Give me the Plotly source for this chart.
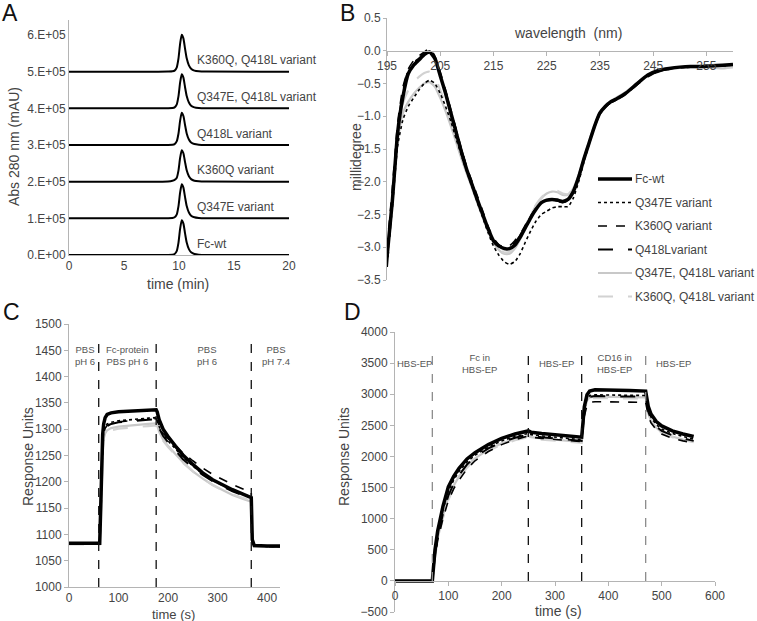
import plotly.graph_objects as go

# ---------------- Panel A: size-exclusion chromatograms (stacked) ----------------
a_time = [0, 8, 9, 9.4, 9.6, 9.8, 9.95, 10.1, 10.25, 10.4, 10.55, 10.7, 10.9, 11.1, 11.4, 11.8, 12.5, 20]
a_fc_wt = [0, 0, 300, 1000, 2900, 11400, 33000, 71000, 95000, 85500, 59000, 34000, 16000, 7600, 2900, 1000, 200, 0]
a_q347e = [100000, 100000, 100300, 100900, 102800, 111000, 132500, 170000, 193000, 183700, 157700, 133500, 115800, 107400, 102800, 100900, 100200, 100000]
a_k360q = [200000, 200000, 200500, 202500, 205000, 211000, 230000, 264500, 286000, 277400, 253300, 231000, 214600, 206900, 202600, 200900, 200200, 200000]
a_q418l = [300000, 300000, 300300, 300900, 302600, 310600, 330800, 366000, 388000, 379200, 354600, 331700, 315000, 307000, 302600, 300900, 300200, 300000]
a_q347e_q418l = [400000, 400000, 400300, 400900, 402800, 411000, 432500, 470000, 493000, 483700, 457700, 433500, 415800, 407400, 402800, 400900, 400200, 400000]
a_k360q_q418l = [500000, 500000, 500300, 501000, 503000, 512100, 535400, 575800, 601000, 590900, 562600, 536400, 517200, 508100, 503000, 501000, 500200, 500000]
a_labels = ["Fc-wt", "Q347E variant", "K360Q variant", "Q418L variant",
            "Q347E, Q418L variant", "K360Q, Q418L variant"]
a_label_y = [31000, 131000, 231000, 331000, 431000, 531000]
a_tickvals = [0, 100000, 200000, 300000, 400000, 500000, 600000]
a_ticktext = ["0.E+00", "1.E+05", "2.E+05", "3.E+05", "4.E+05", "5.E+05", "6.E+05"]

# ---------------- Panel B: CD spectra ----------------
b_wl = [195, 196, 197, 198, 199, 200, 201, 202, 203, 204, 205, 206, 207, 208, 209, 210,
        211, 212, 213, 214, 215, 216, 217, 218, 219, 220, 221, 222, 223, 224, 225, 226,
        227, 228, 229, 230, 231, 232, 233, 234, 235, 236, 237, 238, 240, 242, 244, 246,
        248, 250, 252, 254, 256, 258, 260]
b_fc_wt = [-3.15, -2.3, -1.25, -0.7, -0.35, -0.22, -0.14, -0.06, -0.02, -0.12, -0.38, -0.65, -0.95, -1.25, -1.55, -1.82,
           -2.05, -2.28, -2.5, -2.72, -2.9, -2.98, -3.02, -3.02, -2.97, -2.85, -2.7, -2.55, -2.42, -2.32, -2.28, -2.27,
           -2.28, -2.3, -2.27, -2.15, -1.93, -1.65, -1.4, -1.15, -0.95, -0.85, -0.78, -0.74, -0.64, -0.5, -0.37, -0.3,
           -0.27, -0.25, -0.24, -0.24, -0.23, -0.22, -0.21]
b_q347e = [-3.2, -2.4, -1.45, -1.05, -0.85, -0.72, -0.6, -0.5, -0.45, -0.5, -0.65, -0.85, -1.08, -1.35, -1.6, -1.85,
           -2.08, -2.32, -2.55, -2.78, -2.98, -3.12, -3.22, -3.26, -3.22, -3.1, -2.92, -2.75, -2.6, -2.5, -2.45, -2.4,
           -2.38, -2.38, -2.38, -2.25, -2.0, -1.7, -1.42, -1.17, -0.97, -0.86, -0.79, -0.74, -0.64, -0.5, -0.38, -0.31,
           -0.27, -0.26, -0.25, -0.24, -0.24, -0.23, -0.22]
b_k360q = [-3.0, -2.1, -1.1, -0.55, -0.28, -0.15, -0.08, -0.02, 0.04, -0.08, -0.32, -0.6, -0.9, -1.2, -1.5, -1.78,
           -2.0, -2.22, -2.45, -2.68, -2.86, -2.96, -3.0, -2.98, -2.9, -2.8, -2.66, -2.52, -2.4, -2.32, -2.29, -2.28,
           -2.3, -2.32, -2.28, -2.15, -1.92, -1.64, -1.38, -1.14, -0.95, -0.86, -0.8, -0.76, -0.66, -0.52, -0.4, -0.31,
           -0.28, -0.25, -0.24, -0.24, -0.23, -0.23, -0.22]
b_q418l = [-3.3, -2.3, -1.2, -0.62, -0.3, -0.18, -0.12, -0.05, -0.02, -0.12, -0.36, -0.63, -0.93, -1.22, -1.52, -1.8,
           -2.04, -2.27, -2.5, -2.72, -2.9, -2.99, -3.02, -3.0, -2.93, -2.82, -2.68, -2.53, -2.41, -2.32, -2.28, -2.27,
           -2.29, -2.31, -2.27, -2.14, -1.92, -1.65, -1.4, -1.15, -0.96, -0.86, -0.79, -0.75, -0.65, -0.51, -0.38, -0.32,
           -0.27, -0.26, -0.24, -0.23, -0.23, -0.22, -0.22]
b_q347e_q418l = [-3.15, -2.35, -1.4, -0.95, -0.78, -0.66, -0.57, -0.5, -0.48, -0.55, -0.72, -0.92, -1.15, -1.4, -1.65, -1.88,
                 -2.1, -2.33, -2.55, -2.76, -2.93, -3.04, -3.1, -3.1, -3.02, -2.88, -2.7, -2.52, -2.36, -2.25, -2.18, -2.15,
                 -2.16, -2.2, -2.2, -2.1, -1.9, -1.63, -1.37, -1.13, -0.94, -0.84, -0.77, -0.72, -0.62, -0.49, -0.37, -0.31,
                 -0.28, -0.26, -0.25, -0.25, -0.26, -0.27, -0.25]
b_k360q_q418l = [-3.1, -2.25, -1.3, -0.8, -0.6, -0.48, -0.4, -0.34, -0.32, -0.4, -0.6, -0.82, -1.07, -1.33, -1.6, -1.84,
                 -2.07, -2.3, -2.52, -2.74, -2.92, -3.03, -3.08, -3.07, -2.99, -2.86, -2.68, -2.5, -2.35, -2.24, -2.17, -2.13,
                 -2.14, -2.18, -2.19, -2.09, -1.9, -1.63, -1.37, -1.13, -0.94, -0.84, -0.77, -0.73, -0.63, -0.5, -0.37, -0.31,
                 -0.28, -0.26, -0.25, -0.25, -0.25, -0.26, -0.25]
b_names = ["Fc-wt", "Q347E variant", "K360Q variant", "Q418Lvariant",
           "Q347E, Q418L variant", "K360Q, Q418L variant"]

# ---------------- Panel C: SPR, FcRn ----------------
c_time = [0, 62, 64, 66, 68, 70, 73, 77, 85, 100, 120, 140, 160, 176, 178, 182, 190, 200, 215, 230,
          250, 270, 290, 310, 330, 350, 368, 370, 374, 400, 430]
c_fc_wt = [1083, 1083, 1150, 1240, 1290, 1310, 1322, 1328, 1331, 1333, 1334, 1335, 1336, 1337, 1333, 1318, 1300, 1286, 1268, 1251,
           1233, 1217, 1204, 1194, 1185, 1177, 1170, 1090, 1079, 1078, 1078]
c_q347e = [1082, 1082, 1140, 1225, 1275, 1295, 1305, 1310, 1313, 1316, 1318, 1320, 1321, 1322, 1318, 1305, 1290, 1278, 1262, 1247,
           1230, 1215, 1203, 1193, 1185, 1177, 1171, 1088, 1078, 1077, 1077]
c_k360q = [1082, 1082, 1140, 1225, 1272, 1292, 1302, 1307, 1311, 1314, 1316, 1318, 1319, 1320, 1316, 1305, 1292, 1282, 1268, 1255,
           1240, 1226, 1214, 1204, 1195, 1187, 1180, 1090, 1079, 1078, 1078]
c_q418l = [1082, 1082, 1138, 1222, 1270, 1290, 1300, 1306, 1310, 1313, 1315, 1317, 1318, 1319, 1315, 1302, 1287, 1275, 1258, 1243,
           1227, 1213, 1201, 1191, 1182, 1175, 1168, 1088, 1078, 1077, 1077]
c_q347e_q418l = [1082, 1082, 1130, 1210, 1260, 1282, 1292, 1298, 1302, 1305, 1307, 1309, 1310, 1311, 1307, 1295, 1280, 1268, 1252, 1237,
                 1220, 1206, 1194, 1184, 1175, 1168, 1162, 1085, 1077, 1076, 1076]
c_k360q_q418l = [1081, 1081, 1128, 1205, 1255, 1278, 1288, 1294, 1298, 1301, 1303, 1305, 1306, 1307, 1303, 1292, 1278, 1266, 1250, 1236,
                 1220, 1206, 1194, 1184, 1176, 1169, 1164, 1085, 1077, 1076, 1076]
c_events = [60, 176, 368]
c_phase_x = [32, 118, 278, 418]
c_phase_text = ["PBS<br>pH 6", "Fc-protein<br>PBS pH 6", "PBS<br>pH 6", "PBS<br>pH 7.4"]

# ---------------- Panel D: SPR, CD16 ----------------
d_time = [0, 70, 72, 75, 80, 90, 100, 110, 120, 135, 150, 175, 200, 225, 250, 255, 275, 300, 325, 350,
          352, 355, 360, 365, 375, 400, 440, 470, 472, 475, 480, 490, 500, 520, 540, 560]
d_fc_wt = [0, 0, 200, 500, 800, 1200, 1510, 1680, 1810, 1960, 2060, 2190, 2290, 2360, 2410, 2390, 2370, 2350, 2330, 2310,
           2500, 2800, 2990, 3050, 3070, 3070, 3060, 3050, 2950, 2800, 2680, 2560, 2490, 2410, 2360, 2320]
d_q347e = [0, 0, 180, 460, 760, 1150, 1440, 1620, 1760, 1910, 2020, 2150, 2250, 2320, 2370, 2350, 2330, 2310, 2290, 2270,
           2450, 2750, 2930, 2980, 2990, 2990, 2985, 2980, 2880, 2740, 2630, 2510, 2440, 2370, 2320, 2280]
d_k360q = [0, 0, 150, 380, 650, 1000, 1290, 1480, 1620, 1800, 1930, 2080, 2190, 2270, 2330, 2310, 2290, 2270, 2250, 2240,
           2400, 2650, 2820, 2870, 2880, 2880, 2875, 2870, 2780, 2650, 2540, 2430, 2360, 2290, 2250, 2220]
d_q418l = [0, 0, 160, 420, 700, 1080, 1370, 1560, 1700, 1870, 1990, 2130, 2230, 2300, 2350, 2330, 2310, 2290, 2270, 2250,
           2430, 2720, 2900, 2960, 2970, 2970, 2965, 2960, 2860, 2720, 2600, 2480, 2410, 2340, 2290, 2250]
d_q347e_q418l = [0, 0, 150, 400, 680, 1050, 1340, 1530, 1680, 1850, 1970, 2110, 2210, 2280, 2330, 2310, 2290, 2270, 2250, 2230,
                 2420, 2720, 2900, 2950, 2960, 2960, 2955, 2950, 2850, 2700, 2580, 2460, 2390, 2320, 2270, 2240]
d_k360q_q418l = [0, 0, 140, 380, 650, 1010, 1300, 1500, 1650, 1820, 1950, 2090, 2190, 2260, 2310, 2290, 2270, 2250, 2230, 2220,
                 2400, 2700, 2880, 2930, 2940, 2940, 2935, 2930, 2830, 2690, 2570, 2450, 2380, 2310, 2260, 2230]
d_events = [70, 250, 350, 470]
d_event_colors = ["#8c8c8c", "#111111", "#111111", "#8c8c8c"]
d_phase_x = [36, 159, 303, 411, 522]
d_phase_text = ["HBS-EP", "Fc in<br>HBS-EP", "HBS-EP", "CD16 in<br>HBS-EP", "HBS-EP"]

# ---------------- styles ----------------
FONT = "Liberation Sans, Arial, Helvetica, sans-serif"
TXT = "#444444"
AX = "#b4b4b4"
W, H = 757, 621

def px_x(p):
    return p / W

def px_y(p):
    return 1 - p / H

styles = {
    "Fc-wt": ("#000000", "solid", 3.5),
    "Q347E": ("#000000", "dot", 1.6),
    "K360Q": ("#000000", "dash", 1.6),
    "Q418L": ("#000000", "longdash", 2.0),
    "Q347E,Q418L": ("#c8c8c8", "solid", 2.2),
    "K360Q,Q418L": ("#d2d2d2", "longdash", 2.2),
}
keys = ["Fc-wt", "Q347E", "K360Q", "Q418L", "Q347E,Q418L", "K360Q,Q418L"]
draw_order = [4, 5, 1, 2, 3, 0]

fig = go.Figure()

# Panel A
a_series = [a_fc_wt, a_q347e, a_k360q, a_q418l, a_q347e_q418l, a_k360q_q418l]
for s in a_series:
    fig.add_trace(go.Scatter(x=a_time, y=s, mode="lines", line=dict(color="#000000", width=2, shape="spline", smoothing=0.6),
                             xaxis="x", yaxis="y", showlegend=False, hoverinfo="skip"))

# Panel B
b_series = [b_fc_wt, b_q347e, b_k360q, b_q418l, b_q347e_q418l, b_k360q_q418l]
for i in draw_order:
    c, d, w = styles[keys[i]]
    fig.add_trace(go.Scatter(x=b_wl, y=b_series[i], mode="lines", name=b_names[i],
                             line=dict(color=c, dash=d, width=w, shape="spline", smoothing=0.5),
                             xaxis="x2", yaxis="y2", showlegend=False))

# Panel C
c_series = [c_fc_wt, c_q347e, c_k360q, c_q418l, c_q347e_q418l, c_k360q_q418l]
for i in draw_order:
    c, d, w = styles[keys[i]]
    fig.add_trace(go.Scatter(x=c_time, y=c_series[i], mode="lines", line=dict(color=c, dash=d, width=w),
                             xaxis="x3", yaxis="y3", showlegend=False))

# Panel D
d_series = [d_fc_wt, d_q347e, d_k360q, d_q418l, d_q347e_q418l, d_k360q_q418l]
for i in draw_order:
    c, d, w = styles[keys[i]]
    fig.add_trace(go.Scatter(x=d_time, y=d_series[i], mode="lines", line=dict(color=c, dash=d, width=w),
                             xaxis="x4", yaxis="y4", showlegend=False))

shapes = []
for t in c_events:
    shapes.append(dict(type="line", xref="x3", yref="y3", x0=t, x1=t, y0=1000, y1=1466,
                       line=dict(color="#111111", width=1.3, dash="dash")))
for t, col in zip(d_events, d_event_colors):
    shapes.append(dict(type="line", xref="x4", yref="y4", x0=t, x1=t, y0=0, y1=3710,
                       line=dict(color=col, width=1.3, dash="dash")))

ann = []
def text(x, y, s, size=14, xref="paper", yref="paper", xanchor="center", yanchor="middle", angle=0, color=TXT):
    ann.append(dict(x=x, y=y, xref=xref, yref=yref, text=s, showarrow=False, xanchor=xanchor, yanchor=yanchor,
                    textangle=angle, font=dict(family=FONT, size=size, color=color)))

# manual legend for panel B (line sample + label)
leg_rows = [179, 202.5, 226, 249.5, 273, 296.5]
for i, row in enumerate(leg_rows):
    c, d, w = styles[keys[i]]
    shapes.append(dict(type="line", xref="paper", yref="paper", x0=px_x(598), x1=px_x(632),
                       y0=px_y(row), y1=px_y(row), line=dict(color=c, dash=d, width=w)))
    text(px_x(633), px_y(row), b_names[i], size=12, xanchor="left")

# panel letters
text(px_x(10), px_y(13), "A", size=23, color="#111111")
text(px_x(347), px_y(13), "B", size=23, color="#111111")
text(px_x(11), px_y(312), "C", size=23, color="#111111")
text(px_x(352), px_y(312), "D", size=23, color="#111111")

# axis titles
text(px_x(14), px_y(147), "Abs 280 nm (mAU)", angle=-90)
text(px_x(178), px_y(284), "time (min)")
text(px_x(356), px_y(157), "millidegree", angle=-90)
text(px_x(568), px_y(33), "wavelength  (nm)")
text(px_x(28), px_y(457), "Response Units", angle=-90)
text(px_x(173), px_y(614), "time (s)", size=13)
text(px_x(344), px_y(457), "Response Units", angle=-90)
text(px_x(558), px_y(611), "time (s)")

# panel A labels
for lab, yv in zip(a_labels, a_label_y):
    text(11.45, yv, lab, size=12, xref="x", yref="y", xanchor="left")

# phase labels
for xv, s in zip(c_phase_x, c_phase_text):
    text(xv, 1440, s, size=9.5, xref="x3", yref="y3", color="#555555")
for xv, s in zip(d_phase_x, d_phase_text):
    text(xv, 3500, s, size=9.5, xref="x4", yref="y4", color="#555555")

tickfont = dict(family=FONT, size=12, color=TXT)
base_ax = dict(showgrid=False, zeroline=False, showline=True, linecolor=AX, linewidth=1, automargin=False,
               tickfont=tickfont, ticks="outside", ticklen=4, tickcolor=AX, fixedrange=True)

fig.update_layout(
    width=W, height=H, margin=dict(l=0, r=0, t=0, b=0, autoexpand=False),
    paper_bgcolor="white", plot_bgcolor="white", showlegend=False,
    font=dict(family=FONT, color=TXT),
    xaxis=dict(base_ax, domain=[px_x(69), px_x(289)], range=[0, 20], anchor="y", tickvals=[0, 5, 10, 15, 20], ticks=""),
    yaxis=dict(base_ax, domain=[px_y(255), px_y(20)], range=[0, 641000], anchor="x",
               tickvals=a_tickvals, ticktext=a_ticktext, ticks=""),
    xaxis2=dict(base_ax, domain=[px_x(387), px_x(733)], range=[195, 260], anchor="free", position=px_y(51),
                tick0=195, dtick=10),
    yaxis2=dict(base_ax, domain=[px_y(280), px_y(18)], range=[-3.5, 0.5], anchor="x2", dtick=0.5, tickformat=".1f",
                ticklen=3),
    xaxis3=dict(base_ax, domain=[px_x(69), px_x(280)], range=[0, 426], anchor="y3", dtick=100, ticks=""),
    yaxis3=dict(base_ax, domain=[px_y(587), px_y(324)], range=[1000, 1500], anchor="x3", dtick=50),
    xaxis4=dict(base_ax, domain=[px_x(395), px_x(715)], range=[0, 600], anchor="free", position=px_y(581), dtick=100),
    yaxis4=dict(base_ax, domain=[px_y(612), px_y(332)], range=[-500, 4000], anchor="x4", dtick=500),
    shapes=shapes, annotations=ann,
)

fig.write_html("out.html", config={"displayModeBar": False},
               post_script="document.body.style.margin='0';")
